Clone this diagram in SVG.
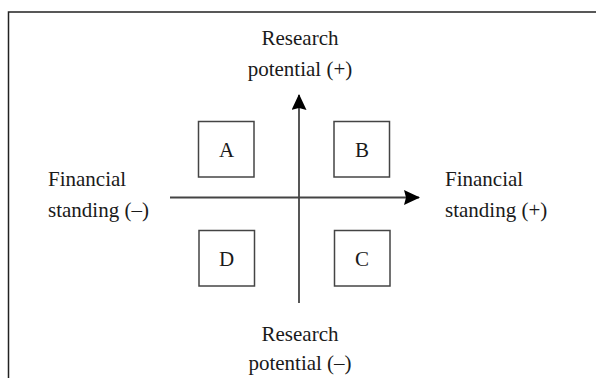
<svg xmlns="http://www.w3.org/2000/svg" width="596" height="378" viewBox="0 0 596 378">
<defs>
<style>
.t{font-family:"Liberation Serif","Times New Roman",serif;font-size:21px;fill:#1a1a1a}
.c{text-anchor:middle}
.box{fill:#fff;stroke:#444;stroke-width:1.5}
.ax{stroke:#444;stroke-width:1.8;fill:none}
</style>
<marker id="ah" viewBox="0 0 16 15" refX="15" refY="7.5" markerWidth="16" markerHeight="15" markerUnits="userSpaceOnUse" orient="auto">
<path d="M0,0 L16,7.5 L0,15 L2,7.5 Z" fill="#000"/>
</marker>
</defs>
<rect width="596" height="378" fill="#fff"/>
<path d="M8.5,378 V12 H596" fill="none" stroke="#222" stroke-width="1.5"/>
<g id="connectors">
<line class="ax" x1="170" y1="197.5" x2="419" y2="197.5" marker-end="url(#ah)"/>
<line class="ax" x1="299" y1="303" x2="299" y2="95" marker-end="url(#ah)"/>
</g>
<g id="A"><rect class="box" x="198.5" y="121.5" width="55.5" height="55.5"/><text class="t c" x="226.5" y="156.5">A</text></g>
<g id="B"><rect class="box" x="334" y="121.5" width="55.5" height="55.5"/><text class="t c" x="362" y="156.5">B</text></g>
<g id="D"><rect class="box" x="199" y="230.5" width="55.5" height="55.5"/><text class="t c" x="226.5" y="265.5">D</text></g>
<g id="C"><rect class="box" x="334.5" y="230.5" width="55.5" height="55.5"/><text class="t c" x="362" y="265.5">C</text></g>
<g id="top-label"><text class="t c" x="300" y="44.5">Research</text><text class="t c" x="300" y="75.5">potential (+)</text></g>
<g id="bottom-label"><text class="t c" x="300" y="340.5">Research</text><text class="t c" x="300" y="369.5">potential (–)</text></g>
<g id="left-label"><text class="t" x="48" y="185.5">Financial</text><text class="t" x="48" y="216.5">standing (–)</text></g>
<g id="right-label"><text class="t" x="445" y="185.5">Financial</text><text class="t" x="445" y="216.5">standing (+)</text></g>
</svg>
